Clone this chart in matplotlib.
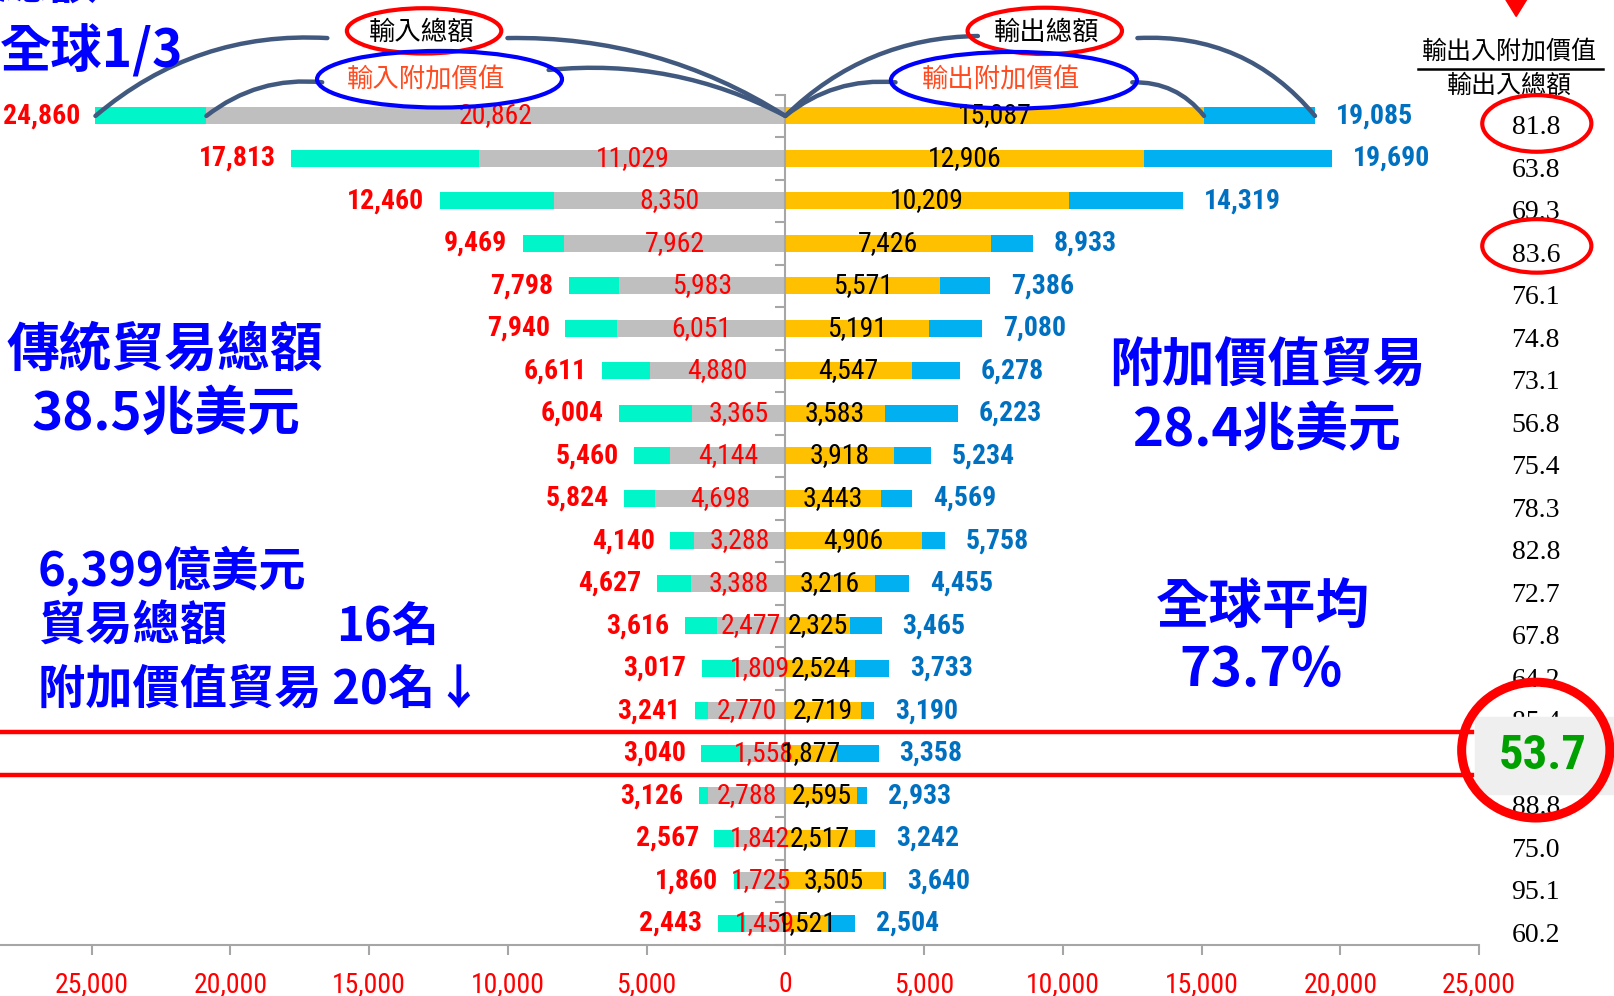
import matplotlib
matplotlib.use('Agg')
import matplotlib.pyplot as plt
from matplotlib import font_manager
from matplotlib.patches import Ellipse, Rectangle, Polygon
from matplotlib.lines import Line2D
from matplotlib.ticker import FuncFormatter

# 20 economies, top to bottom (億美元)
import_total = [24860, 17813, 12460, 9469, 7798, 7940, 6611, 6004, 5460, 5824,
                4140, 4627, 3616, 3017, 3241, 3040, 3126, 2567, 1860, 2443]
import_va = [20862, 11029, 8350, 7962, 5983, 6051, 4880, 3365, 4144, 4698,
             3288, 3388, 2477, 1809, 2770, 1558, 2788, 1842, 1725, 1459]
export_va = [15087, 12906, 10209, 7426, 5571, 5191, 4547, 3583, 3918, 3443,
             4906, 3216, 2325, 2524, 2719, 1877, 2595, 2517, 3505, 1521]
export_total = [19085, 19690, 14319, 8933, 7386, 7080, 6278, 6223, 5234, 4569,
                5758, 4455, 3465, 3733, 3190, 3358, 2933, 3242, 3640, 2504]
ratio = [81.8, 63.8, 69.3, 83.6, 76.1, 74.8, 73.1, 56.8, 75.4, 78.3,
         82.8, 72.7, 67.8, 64.2, 85.4, 53.7, 88.8, 75.0, 95.1, 60.2]
x_ticks = list(range(-25000, 25001, 5000))
taiwan_row = 15

names = {f.name for f in font_manager.fontManager.ttflist}


def pick(cands, default='DejaVu Sans'):
    return next((c for c in cands if c in names), default)


NUM = [pick(['Liberation Sans Narrow', 'Roboto Condensed', 'Open Sans Condensed', 'Liberation Sans']), 'DejaVu Sans']
SERIF = [pick(['Liberation Serif', 'DejaVu Serif']), 'DejaVu Serif']
CJK = ['Noto Sans CJK TC', 'DejaVu Sans']
plt.rcParams['font.family'] = NUM

# layout helpers, in the 1568x968 reference frame
W, H = 1568.0, 968.0


def fx(x):
    return x / W


def fy(y):
    return 1 - y / H


fig = plt.figure(figsize=(16.14, 9.96), dpi=100)
ax = fig.add_axes([0, fy(918), 1437 / W, (918 - 92) / H])

rows = list(range(len(import_total)))
ax.barh(rows, [-v for v in import_total], height=0.4, color='#00F5C8')
ax.barh(rows, [-v for v in import_va], height=0.4, color='#BFBFBF')
ax.barh(rows, export_total, height=0.4, color='#00B0F0')
ax.barh(rows, export_va, height=0.4, color='#FFC000')
ax.set_ylim(len(rows) - 0.5, -0.5)
ax.set_xlim(-28300, 25000)

for s in ['top', 'right']:
    ax.spines[s].set_visible(False)
ax.spines['left'].set_position(('data', 0))
ax.spines['left'].set_color('#A6A6A6')
ax.spines['left'].set_linewidth(1.5)
ax.spines['bottom'].set_color('#A6A6A6')
ax.spines['bottom'].set_linewidth(1.5)
ax.set_yticks([r - 0.5 for r in range(len(rows) + 1)])
ax.set_yticklabels([])
ax.tick_params(axis='y', length=7, width=1.5, color='#A6A6A6')
ax.set_xticks(x_ticks)
ax.xaxis.set_major_formatter(FuncFormatter(lambda v, p: f'{abs(int(v)):,}'))
ax.tick_params(axis='x', length=7, width=1.5, color='#A6A6A6', pad=12,
               labelcolor='red', labelsize=20)

for i in rows:
    ax.annotate(f'{import_total[i]:,}', xy=(-import_total[i], i), xytext=(-11, 0),
                textcoords='offset points', ha='right', va='center', color='red',
                fontweight='bold', fontsize=20)
    ax.text(-import_va[i] / 2, i, f'{import_va[i]:,}', ha='center', va='center',
            color='red', fontsize=20)
    ax.text(export_va[i] / 2, i, f'{export_va[i]:,}', ha='center', va='center',
            color='black', fontsize=20)
    ax.annotate(f'{export_total[i]:,}', xy=(export_total[i], i), xytext=(15, 0),
                textcoords='offset points', ha='left', va='center', color='#0070C0',
                fontweight='bold', fontsize=20)
    ax.annotate(f'{ratio[i]:.1f}', xy=(fx(1492), i), xycoords=('figure fraction', 'data'),
                xytext=(0, -8.5), textcoords='offset points', ha='center', va='center',
                family=SERIF, fontsize=20, annotation_clip=False)

# red lines around Taiwan's row
for edge in (taiwan_row - 0.5, taiwan_row + 0.5):
    ax.axhline(edge, xmin=0, xmax=0.995, color='red', lw=3.2, zorder=5)

# bracket curves from labels to bars
curve = dict(arrowstyle='-', color='#41597F', lw=3.2, shrinkA=0, shrinkB=0)
links = [
    ((318, 37), (-import_total[0], 0), 0.2),
    ((313, 80), (-import_va[0], 0), 0.2),
    ((493, 37), (0, 0), -0.15),
    ((533, 68), (0, 0), -0.15),
    ((950, 35), (0, 0), 0.2),
    ((870, 80), (0, 0), 0.2),
    ((1105, 37), (export_total[0], 0), -0.25),
    ((1100, 80), (export_va[0], 0), -0.25),
]
for (px, py), xy, rad in links:
    ax.annotate('', xy=xy, xycoords='data', xytext=(fx(px), fy(py)),
                textcoords='figure fraction', annotation_clip=False,
                arrowprops=dict(curve, connectionstyle=f'arc3,rad={rad}'))

# ellipse labels
fig.text(fx(410), fy(31), '輸入總額', family=CJK, fontsize=19, ha='center', va='center')
fig.text(fx(414), fy(77), '輸入附加價值', family=CJK, fontsize=19, ha='center', va='center', color='#FF4B1F')
fig.text(fx(1017), fy(31), '輸出總額', family=CJK, fontsize=19, ha='center', va='center')
fig.text(fx(972), fy(77), '輸出附加價值', family=CJK, fontsize=19, ha='center', va='center', color='#FF4B1F')


def ring(cx, cy, w, h, color, lw):
    fig.add_artist(Ellipse((fx(cx), fy(cy)), w / W, h / H, transform=fig.transFigure,
                           fill=False, edgecolor=color, lw=lw, zorder=4))


ring(412, 30, 150, 44, 'red', 3)
ring(427, 77, 238, 55, '#0000FF', 3)
ring(1015, 30, 150, 45, 'red', 3)
ring(985, 78, 239, 55, '#0000FF', 3)
ring(1493, 120, 106, 55, 'red', 3)
ring(1493, 239, 106, 52, 'red', 3)

# fraction header on the right
fig.text(fx(1466), fy(50), '輸出入附加價值', family=CJK, fontsize=18, ha='center', va='center')
fig.add_artist(Line2D([fx(1378), fx(1557)], [fy(67), fy(67)], color='black', lw=1.8,
                      transform=fig.transFigure))
fig.text(fx(1466), fy(83), '輸出入總額', family=CJK, fontsize=18, ha='center', va='center')
fig.add_artist(Polygon([(fx(1460), fy(-5)), (fx(1486), fy(-5)), (fx(1473), fy(16))],
                       closed=True, transform=fig.transFigure, color='red'))

# Taiwan highlight
fig.add_artist(Rectangle((fx(1433), fy(772)), (1568 - 1433) / W, 75 / H,
                         transform=fig.transFigure, color='#EFEFEF', zorder=2))
fig.text(fx(1499), fy(735), '53.7', color='#00A000', fontweight='bold', fontsize=35,
         ha='center', va='center', zorder=6)
ring(1492, 729, 144, 132, 'red', 6.5)

# big blue notes
blue = '#0000FF'
big = dict(family=CJK, color=blue, fontweight='bold')
fig.text(fx(95), fy(10), '總額', ha='right', va='bottom', fontsize=36, **big)
fig.text(0.0, fy(50), '全球1/3', ha='left', va='center', fontsize=37, **big)
fig.text(fx(160), fy(340), '傳統貿易總額', ha='center', va='center', fontsize=38, **big)
fig.text(fx(161), fy(403), '38.5兆美元', ha='center', va='center', fontsize=38, **big)
fig.text(fx(1231), fy(355), '附加價值貿易', ha='center', va='center', fontsize=38, **big)
fig.text(fx(1230), fy(418), '28.4兆美元', ha='center', va='center', fontsize=38, **big)
fig.text(fx(1227), fy(590), '全球平均', ha='center', va='center', fontsize=38.5, **big)
fig.text(fx(1225), fy(652), '73.7%', ha='center', va='center', fontsize=38.5, **big)
fig.text(fx(37), fy(555), '6,399億美元', ha='left', va='center', fontsize=34, **big)
fig.text(fx(37), fy(609), '貿易總額', ha='left', va='center', fontsize=34, **big)
fig.text(fx(327), fy(609), '16名', ha='left', va='center', fontsize=34, **big)
fig.text(fx(37), fy(670), '附加價值貿易 20名↓', ha='left', va='center', fontsize=34, **big)

fig.savefig('out.png', dpi=100)
